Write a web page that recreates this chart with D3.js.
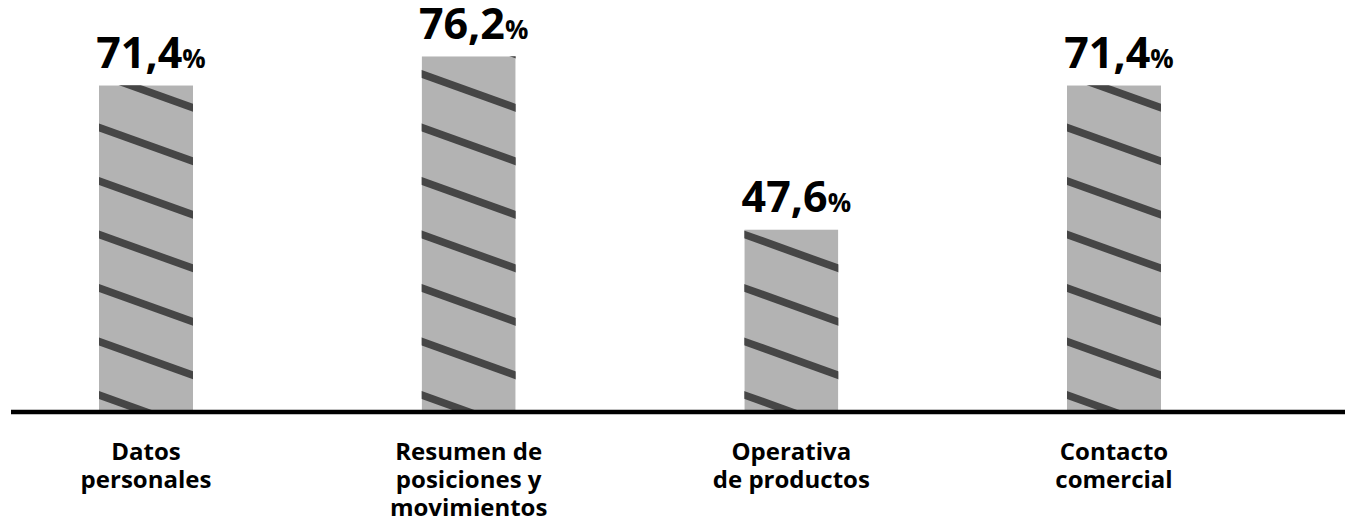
<!DOCTYPE html>
<html>
<head>
<meta charset="utf-8">
<script src="https://cdn.jsdelivr.net/npm/d3@7"></script>
<style>
  html, body { margin: 0; padding: 0; background: #ffffff; }
  svg { display: block; }
  text { font-family: "Open Sans", "Noto Sans", sans-serif; font-weight: 700; fill: #000; }
</style>
</head>
<body>
<svg id="chart" width="1345" height="520"></svg>
<script>
// ---- data ----
const categories = [
  ["Datos", "personales"],
  ["Resumen de", "posiciones y", "movimientos"],
  ["Operativa", "de productos"],
  ["Contacto", "comercial"]
];
const values = [71.4, 76.2, 47.6, 71.4];
const valueLabels = ["71,4", "76,2", "47,6", "71,4"];

// ---- layout ----
const W = 1345, H = 520;
const baseY = 412;
const barW = 94;
const svg = d3.select("#chart");
const defs = svg.append("defs");

const ids = d3.range(values.length);
const x = d3.scalePoint().domain(ids).range([146, 1114]).padding(0);
const y = d3.scaleLinear().domain([17.45, 80]).range([baseY, 33.3]);

// bars
const stripeSpacing = 53.5, slope = 0.36, stripeStart = 395;
ids.forEach(i => {
  const x0 = x(i) - barW / 2, top = y(values[i]);
  const cid = "clip" + i;
  defs.append("clipPath").attr("id", cid)
    .append("rect").attr("x", x0).attr("y", top).attr("width", barW).attr("height", baseY - top);
  const g = svg.append("g").attr("clip-path", `url(#${cid})`);
  g.append("rect").attr("x", x0).attr("y", top).attr("width", barW).attr("height", baseY - top)
    .attr("fill", "#b3b3b3");
  for (let k = -1; ; k++) {
    const yl = stripeStart - k * stripeSpacing;
    if (yl + slope * barW < top - 10) break;
    g.append("line")
      .attr("x1", x0 - 5).attr("y1", yl - slope * 5)
      .attr("x2", x0 + barW + 5).attr("y2", yl + slope * (barW + 5))
      .attr("stroke", "#464646").attr("stroke-width", 7.5);
  }
});

// baseline
svg.append("line").attr("x1", 11).attr("x2", W).attr("y1", baseY).attr("y2", baseY)
  .attr("stroke", "#000").attr("stroke-width", 4.5);

// value labels
ids.forEach(i => {
  const t = svg.append("text")
    .attr("x", x(i) + 5).attr("y", y(values[i]) - 17)
    .attr("text-anchor", "middle");
  t.append("tspan").attr("font-size", 43).text(valueLabels[i]);
  t.append("tspan").attr("font-size", 26).text("%");
});

// category labels
ids.forEach(i => {
  const t = svg.append("text").attr("text-anchor", "middle").attr("font-size", 24);
  categories[i].forEach((line, j) => {
    t.append("tspan").attr("x", x(i)).attr("y", 460 + j * 28).text(line);
  });
});
</script>
</body>
</html>
